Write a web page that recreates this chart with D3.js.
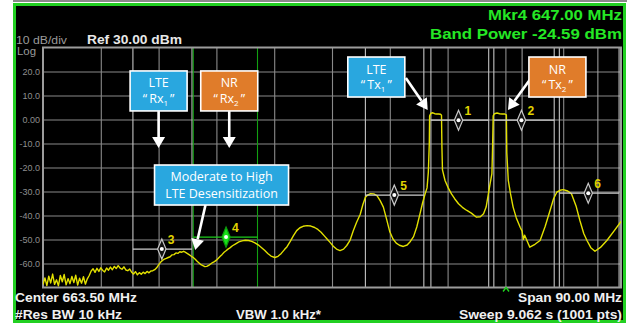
<!DOCTYPE html>
<html><head><meta charset="utf-8">
<script src="https://cdn.jsdelivr.net/npm/d3@7"></script>
<style>html,body{margin:0;padding:0;background:#fff;}svg{display:block}</style>
</head><body>
<svg id="chart" width="630" height="324"></svg>
<script>
// ---------- data ----------
const traceFreq = [618.5,618.8,619.1,619.4,619.7,620.0,620.3,620.6,620.9,621.2,621.5,621.8,622.1,622.4,622.7,623.0,623.3,623.6,623.9,624.2,624.5,624.8,625.1,625.4,625.7,
626.0,626.3,626.6,626.9,627.2,627.5,627.8,628.1,628.4,628.7,629.0,629.3,629.6,629.9,630.2,630.5,630.8,631.1,631.4,631.7,632.0,632.3,
632.6,632.9,633.2,633.5,633.8,634.1,634.4,634.7,635.0,635.3,635.6,635.9,636.2,636.5,636.8,637.1,637.4,637.7,638.0,638.3,638.6,638.9,
639.2,639.5,639.8,640.1,640.4,640.7,641.0,641.3,641.6,641.9,642.2,642.5,642.8,643.1,643.4,643.7,644.0,644.3,644.6,644.9,645.2,645.5,
645.8,646.1,646.4,646.7,647.0,647.3,647.6,648.0,648.5,649.0,649.5,650.0,650.5,651.0,651.5,652.0,652.5,653.0,653.5,654.0,654.6,655.1,
655.6,656.1,656.5,657.0,657.5,658.0,658.5,659.0,659.6,660.2,660.8,661.3,661.8,662.3,662.8,663.2,663.7,664.2,664.75,665.3,665.8,666.3,
666.8,667.3,667.9,668.3,668.7,669.1,669.5,670.0,670.5,671.0,671.5,672.0,672.5,673.0,673.5,674.0,674.6,675.2,675.7,676.2,676.7,677.2,
677.6,678.0,678.3,678.5,678.65,678.7,678.9,679.2,679.5,679.8,680.1,680.4,680.55,680.62,680.7,681.1,681.6,682.1,682.6,683.2,683.8,684.5,
685.2,686.0,686.6,687.1,687.5,687.85,688.1,688.4,688.5,688.6,688.8,689.2,689.6,690.0,690.4,690.65,690.72,690.95,691.3,691.7,692.2,692.8,
693.1,693.3,693.5,694.3,695.1,695.9,696.7,697.45,698.0,698.5,699.0,699.5,700.2,700.8,701.5,702.1,702.7,703.2,703.8,704.45,705.3,706.3,
707.4,708.5];
const traceLevel = [-68.8,-66.0,-69.2,-65.3,-68.1,-64.4,-68.7,-66.8,-69.3,-65.0,-67.6,-64.6,-68.9,-66.3,-68.4,-65.4,-67.9,-64.9,-69.0,-66.1,-68.2,-65.5,-68.6,-66.4,-65.0,
-63.1,-62.2,-63.7,-62.0,-63.3,-61.8,-62.9,-63.5,-61.9,-62.8,-61.5,-62.6,-61.2,-62.1,-60.9,-61.9,-62.4,-61.4,-62.7,-63.0,-62.3,-63.6,
-64.4,-63.4,-64.7,-63.8,-64.5,-63.6,-64.2,-63.3,-63.9,-63.1,-63.0,-62.6,-61.8,-60.6,-59.5,-58.7,-58.2,-57.9,-57.5,-57.2,-56.4,-56.3,
-55.6,-55.8,-55.1,-55.3,-54.9,-55.4,-55.9,-56.4,-57.0,-57.5,-58.2,-59.1,-59.8,-60.5,-60.9,-61.3,-61.2,-60.8,-60.2,-59.6,-59.2,-58.6,
-57.8,-57.0,-56.2,-55.3,-54.7,-54.0,-53.5,-52.6,-51.8,-51.0,-50.6,-50.3,-50.4,-50.8,-51.4,-52.2,-53.3,-54.5,-55.8,-56.9,-57.5,-57.0,
-55.8,-54.2,-53.0,-50.8,-48.4,-46.3,-45.1,-44.5,-44.2,-44.4,-45.0,-45.8,-47.0,-48.5,-50.0,-51.2,-52.8,-54.0,-54.6,-54.0,-52.5,-50.4,
-46.5,-43.0,-39.5,-35.5,-32.4,-31.4,-30.9,-31.0,-31.7,-33.8,-36.5,-41.5,-46.8,-49.8,-51.5,-52.4,-52.9,-52.3,-50.8,-48.8,-44.8,-39.3,
-34.8,-31.0,-28.5,-22.0,-10.0,1.5,2.6,2.8,2.4,2.3,2.3,2.2,1.8,-12.0,-21.0,-25.4,-28.5,-31.0,-33.0,-35.1,-36.6,-37.9,
-39.0,-40.7,-40.5,-39.3,-36.5,-31.0,-27.0,-22.6,-12.0,1.5,2.4,2.7,2.4,2.3,2.3,1.9,-14.0,-25.4,-31.0,-36.5,-41.0,-44.9,
-46.5,-50.0,-48.2,-53.2,-52.0,-50.4,-44.5,-37.9,-33.0,-30.3,-29.5,-29.2,-29.8,-31.0,-36.0,-42.1,-47.5,-50.4,-53.4,-54.9,-53.3,-50.4,
-46.5,-42.5];

const freqStart = 618.5, freqStop = 708.5;      // Center 663.50 MHz, Span 90.00 MHz
const refLevel = 30, bottomLevel = -70;
const yTickValues = [20,10,0,-10,-20,-30,-40,-50,-60];
const yTickLabels = ["20.0","10.0","0.00","-10.0","-20.0","-30.0","-40.0","-50.0","-60.0"];
const xGridFreq = [627.5,636.5,645.5,654.5,663.5,672.5,681.5,690.5,699.5];

const markerIds    = ["1","2","3","4","5","6"];
const markerFreq   = [683.2, 693.0, 637.0, 647.0, 673.2, 703.4];
const markerLevel  = [-0.3, -0.3, -54.0, -49.0, -31.5, -30.7];
const markerBandLo = [678.9, 688.7, 632.5, 641.9, 668.7, 698.9];
const markerBandHi = [687.9, 698.1, 641.7, 651.9, 677.8, 708.2];
const activeMarker = "4";
const extraLineFreq = [693.1, 704.9];
const caretFreq = 690.6;

const boxTitle = ["LTE","NR","LTE","NR"];
const boxSub   = ["Rx","Rx","Tx","Tx"];
const boxIdx   = ["1","2","1","2"];
const boxKind  = ["lte","nr","lte","nr"];
const boxFreq  = [636.5, 647.5, 670.4, 698.6];
const boxLevel = [11.9, 11.9, 17.7, 17.7];
const arrowFromFreq  = [636.5, 647.5, 675.0, 694.5, 643.8];
const arrowFromLevel = [3.5, 3.5, 17.3, 17.3, -35.6];
const arrowToFreq    = [636.5, 647.5, 678.4, 690.9, 642.2];
const arrowToLevel   = [-11.9, -11.9, 4.0, 4.0, -54.4];
const desensLines = ["Moderate to High","LTE Desensitization"];
const desensFreq = 646.3, desensLevel = -27.3;

const headerTop = ["Mkr4 647.00 MHz","Band Power -24.59 dBm"];
const footer = ["Center 663.50 MHz","Span 90.00 MHz","#Res BW 10 kHz","VBW 1.0 kHz*","Sweep  9.062 s (1001 pts)"];

// ---------- drawing ----------
const svg = d3.select("#chart");
const L = 43, R = 621, T = 47.5, B = 287.5;
const x = d3.scaleLinear().domain([freqStart, freqStop]).range([L, R]);
const y = d3.scaleLinear().domain([bottomLevel, refLevel]).range([B, T]);

svg.append("rect").attr("width",630).attr("height",324).attr("fill","#fff");
svg.append("rect").attr("x",13).attr("y",0).attr("width",614).attr("height",2).attr("fill","#8a8a8a");
svg.append("rect").attr("x",14.5).attr("y",4.5).attr("width",610).attr("height",317)
  .attr("fill","#000").attr("stroke","#22d022").attr("stroke-width",3);

const instr = "'Liberation Sans', Arial, sans-serif";
const green = "#25e825";
function txt(s, xx, yy, opt) {
  const t = svg.append("text").attr("x",xx).attr("y",yy).text(s)
    .attr("font-family", instr).attr("font-size", opt.size).attr("font-weight", opt.bold ? "bold" : "normal")
    .attr("fill", opt.fill).attr("text-anchor", opt.anchor || "start");
  if (opt.len) t.attr("textLength", opt.len).attr("lengthAdjust","spacingAndGlyphs");
  return t;
}
txt(headerTop[0], 622, 19.5, {size:14, bold:true, fill:green, anchor:"end", len:134});
txt(headerTop[1], 622, 38.5, {size:14, bold:true, fill:green, anchor:"end", len:192});
txt("10 dB/div", 16, 43.5, {size:10, fill:"#9a9a9a", len:51});
txt("Log", 17, 54.5, {size:10, fill:"#9a9a9a", len:19});
txt("Ref 30.00 dBm", 87, 44, {size:12.5, bold:true, fill:"#e8e8e8", len:95});
txt(footer[0], 15, 302, {size:12.5, bold:true, fill:"#f0f0f0", len:122});
txt(footer[1], 622, 302, {size:12.5, bold:true, fill:"#f0f0f0", anchor:"end", len:104});
txt(footer[2], 15, 319, {size:12.5, bold:true, fill:"#f0f0f0", len:107});
txt(footer[3], 236, 319, {size:12.5, bold:true, fill:"#f0f0f0", len:85});
txt(footer[4], 622, 319, {size:12.5, bold:true, fill:"#f0f0f0", anchor:"end", len:163});

// grid via axes
const gy = svg.append("g").attr("transform",`translate(${L},0)`)
  .call(d3.axisLeft(y).tickValues(yTickValues).tickSize(-(R-L)).tickPadding(3)
    .tickFormat((d,i)=>yTickLabels[i]));
gy.select(".domain").remove();
gy.selectAll("line").attr("stroke","#8a8a8a").attr("stroke-width",1.1);
gy.selectAll("text").attr("fill","#8e8e8e").attr("font-family",instr).attr("font-size",9);

const gx = svg.append("g").attr("transform",`translate(0,${B})`)
  .call(d3.axisBottom(x).tickValues(xGridFreq).tickSize(-(B-T)).tickFormat(""));
gx.select(".domain").remove();
gx.selectAll("line").attr("stroke","#8a8a8a").attr("stroke-width",1.1);

// marker band edge lines
const markers = markerIds.map((id,i)=>({id, f:markerFreq[i], v:markerLevel[i], lo:markerBandLo[i], hi:markerBandHi[i], active:id===activeMarker}));
const bandG = svg.append("g");
extraLineFreq.forEach(f=>{
  bandG.append("line").attr("x1",x(f)).attr("x2",x(f)).attr("y1",T).attr("y2",B)
    .attr("stroke","#a8a8a8").attr("stroke-width",1);
});
markers.forEach(m=>{
  [m.lo, m.hi].forEach(f=>{
    bandG.append("line").attr("x1",x(f)).attr("x2",x(f)).attr("y1",T).attr("y2",B)
      .attr("stroke", m.active ? "#12a012" : "#c4c4c4").attr("stroke-width",1.1);
  });
});

// plot border
svg.append("rect").attr("x",L).attr("y",T).attr("width",R-L).attr("height",B-T)
  .attr("fill","none").attr("stroke","#9c9c9c").attr("stroke-width",2);

// trace
svg.append("clipPath").attr("id","clip").append("rect").attr("x",L).attr("y",T).attr("width",R-L).attr("height",B-T);
const pts = traceFreq.map((f,i)=>[f, traceLevel[i]]);
svg.append("path").datum(pts).attr("clip-path","url(#clip)")
  .attr("d", d3.line().x(d=>x(d[0])).y(d=>y(d[1])))
  .attr("fill","none").attr("stroke","#e2e000").attr("stroke-width",1.4).attr("stroke-linejoin","round");

// marker horizontal band lines + diamonds
markers.forEach(m=>{
  svg.append("line").attr("x1",x(m.lo)).attr("x2",x(m.hi)).attr("y1",y(m.v)).attr("y2",y(m.v))
    .attr("stroke", m.active ? "#1ccc1c" : "#cfcfcf").attr("stroke-width",1.2);
});
markers.forEach(m=>{
  const g = svg.append("g").attr("transform",`translate(${x(m.f)},${y(m.v)})`);
  g.append("path").attr("d","M0,-10L4.2,0L0,10L-4.2,0Z")
    .attr("fill", m.active ? "#18e018" : "#111").attr("stroke", m.active ? "#0c9a0c" : "#c8c8c8").attr("stroke-width",1.2);
  g.append("circle").attr("r",2).attr("fill","#fff");
  g.append("text").attr("x",6).attr("y",-5).text(m.id)
    .attr("font-family",instr).attr("font-weight","bold").attr("font-size",12).attr("fill","#e0d400");
});

// green caret at bottom
svg.append("path").attr("transform",`translate(${x(caretFreq)},${B+1})`)
  .attr("d","M-3,3L0,-1L3,3").attr("fill","none").attr("stroke","#1ed21e").attr("stroke-width",1.4);

// annotation arrows
function arrow(x1,y1,x2,y2){
  const dx=x2-x1, dy=y2-y1, len=Math.hypot(dx,dy), ux=dx/len, uy=dy/len;
  const hl=11, hw=6.5;
  const bx=x2-ux*hl, by=y2-uy*hl;
  svg.append("line").attr("x1",x1).attr("y1",y1).attr("x2",bx).attr("y2",by)
    .attr("stroke","#fff").attr("stroke-width",2.6);
  svg.append("path").attr("d",`M${x2},${y2}L${bx-uy*hw},${by+ux*hw}L${bx+uy*hw},${by-ux*hw}Z`).attr("fill","#fff");
}
arrowFromFreq.forEach((f,i)=>arrow(x(f), y(arrowFromLevel[i]), x(arrowToFreq[i]), y(arrowToLevel[i])));

// annotation boxes
const boxFont = "'Open Sans', 'Noto Sans', sans-serif";
const fillFor = {lte:"#29a7df", nr:"#e07c2a"};
boxTitle.forEach((t,i)=>{
  const cx = x(boxFreq[i]), cy = y(boxLevel[i]);
  const bw = 57, bh = 40;
  svg.append("rect").attr("x",cx-bw/2).attr("y",cy-bh/2).attr("width",bw).attr("height",bh)
    .attr("fill",fillFor[boxKind[i]]).attr("stroke","#fff").attr("stroke-width",1.6);
  svg.append("text").attr("x",cx).attr("y",cy-3.5).attr("text-anchor","middle").text(t)
    .attr("font-family",boxFont).attr("font-size",12.5).attr("fill","#fff");
  const t2 = svg.append("text").attr("x",cx).attr("y",cy+12).attr("text-anchor","middle")
    .attr("font-family",boxFont).attr("font-size",12.5).attr("fill","#fff");
  t2.append("tspan").text("\u201C\u2009" + boxSub[i]);
  t2.append("tspan").attr("dy",3).attr("font-size",8).text(boxIdx[i]);
  t2.append("tspan").attr("dy",-3).text("\u2009\u201D");
});
{
  const cx = x(desensFreq), cy = y(desensLevel), bw = 134, bh = 40;
  svg.append("rect").attr("x",cx-bw/2).attr("y",cy-bh/2).attr("width",bw).attr("height",bh)
    .attr("fill",fillFor.lte).attr("stroke","#fff").attr("stroke-width",1.6);
  desensLines.forEach((s,k)=>{
    svg.append("text").attr("x",cx).attr("y",cy-4+k*16.5).attr("text-anchor","middle").text(s)
      .attr("font-family",boxFont).attr("font-size",12.5).attr("fill","#fff");
  });
}
</script>
</body></html>
